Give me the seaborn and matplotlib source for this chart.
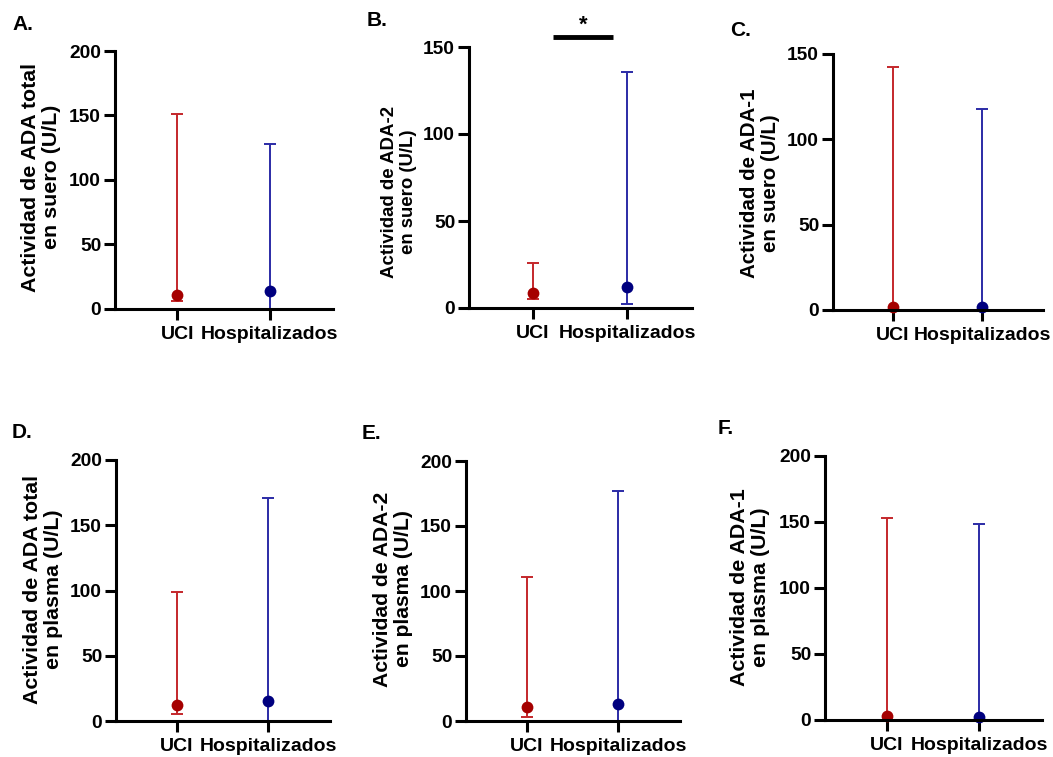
import numpy as np
import pandas as pd
import matplotlib
matplotlib.use("Agg")
import matplotlib.pyplot as plt
import seaborn as sns

# ---------------- data ----------------
categories = ["UCI", "Hospitalizados"]
panel_letters = ["A.", "B.", "C.", "D.", "E.", "F."]
ylabels = [
    "Actividad de ADA total\nen suero (U/L)",
    "Actividad de ADA-2\nen suero (U/L)",
    "Actividad de ADA-1\nen suero (U/L)",
    "Actividad de ADA total\nen plasma (U/L)",
    "Actividad de ADA-2\nen plasma (U/L)",
    "Actividad de ADA-1\nen plasma (U/L)",
]
centers = [[10.6, 13.9], [8.6, 12.3], [2.0, 1.6], [12.0, 15.6], [10.8, 13.3], [3.0, 2.5]]
lows = [[6.5, 0.0], [5.4, 2.3], [0.0, 0.0], [5.6, 0.0], [3.1, 0.0], [0.0, 0.0]]
highs = [[151.5, 127.7], [25.9, 135.4], [142.2, 117.8], [98.5, 170.6], [111.0, 177.0], [153.0, 148.7]]
ymax = [200, 150, 150, 200, 200, 200]
ytick_step = 50
sig_bar_panel = 1          # panel B
sig_bar_x = [0.22, 0.85]
sig_bar_y = 156
sig_text = "*"

# ---------------- style ----------------
point_colors = ["#A50000", "#00007F"]
bar_colors = ["#C4272B", "#2B2BA6"]

sns.set_style("white")
plt.rcParams["font.family"] = ["Liberation Sans", "DejaVu Sans"]
plt.rcParams["font.weight"] = "bold"
plt.rcParams["text.color"] = "black"
plt.rcParams["axes.labelcolor"] = "black"
plt.rcParams["xtick.color"] = "black"
plt.rcParams["ytick.color"] = "black"

W, H = 1053, 757
fig = plt.figure(figsize=(W / 100, H / 100), dpi=100)

# axes boxes in pixels: left, right, top, bottom
boxes = [
    (115, 333, 51, 309),
    (469, 692, 47, 308),
    (833, 1043, 54, 310),
    (116, 330, 460, 721),
    (466, 680, 461, 721),
    (825, 1042, 456, 720),
]
# label right edge / vertical centre (px)
ylabel_pos = [(61, 177), (417, 192), (780, 183), (63, 589), (413, 589), (770, 587)]
ylabel_size = [15.4, 13.4, 14.8, 15.4, 15.2, 15.4]
letter_pos = [(12, 25), (367, 21), (730, 30), (12, 433), (362, 434), (718, 428)]

for i in range(6):
    l, r, t, b = boxes[i]
    ax = fig.add_axes([l / W, 1 - b / H, (r - l) / W, (b - t) / H])
    df = pd.DataFrame({"grupo": categories, "valor": centers[i]})
    sns.stripplot(data=df, x="grupo", y="valor", hue="grupo",
                  palette=point_colors, jitter=False, size=8.5,
                  legend=False, ax=ax, zorder=4, linewidth=0)
    for coll in ax.collections:
        coll.set_clip_on(False)
    for j in range(2):
        c = centers[i][j]
        eb = ax.errorbar([j], [c], yerr=[[c - lows[i][j]], [highs[i][j] - c]],
                         fmt="none", ecolor=bar_colors[j], elinewidth=1.4,
                         capsize=4.5, capthick=1.4, zorder=3)
        for art in eb.lines[1] + eb.lines[2]:
            art.set_clip_on(False)
    ax.set_xlim(-0.67, 1.68)
    ax.set_ylim(0, ymax[i])
    ax.set_yticks(np.arange(0, ymax[i] + 1, ytick_step))
    ax.set_xlabel("")
    ax.set_ylabel(ylabels[i], fontsize=ylabel_size[i], fontweight="bold",
                  linespacing=1.12, color="black")
    lx, ly = ylabel_pos[i]
    ax.yaxis.set_label_coords((lx - l) / (r - l), (b - ly) / (b - t))
    sns.despine(ax=ax)
    for s in ["left", "bottom"]:
        ax.spines[s].set_linewidth(2.2)
        ax.spines[s].set_color("black")
        ax.spines[s].set_zorder(5)
    ax.tick_params(axis="both", width=2.2, length=8, color="black",
                   labelcolor="black", direction="out", left=True, bottom=True)
    ax.tick_params(axis="y", labelsize=13.8, pad=2)
    ax.tick_params(axis="x", labelsize=14, pad=4)
    for lab in ax.get_xticklabels() + ax.get_yticklabels():
        lab.set_fontweight("bold")
    if i == sig_bar_panel:
        ax.plot(sig_bar_x, [sig_bar_y, sig_bar_y], color="black", lw=3.5,
                clip_on=False, solid_capstyle="butt")
        ax.text(np.mean(sig_bar_x), sig_bar_y + 0.5, sig_text, ha="center",
                va="bottom", fontsize=16, fontweight="bold", clip_on=False)
    px, py = letter_pos[i]
    fig.text(px / W, 1 - py / H, panel_letters[i], ha="left", va="center",
             fontsize=15, fontweight="bold", color="black")

fig.savefig("out.png", dpi=100)
